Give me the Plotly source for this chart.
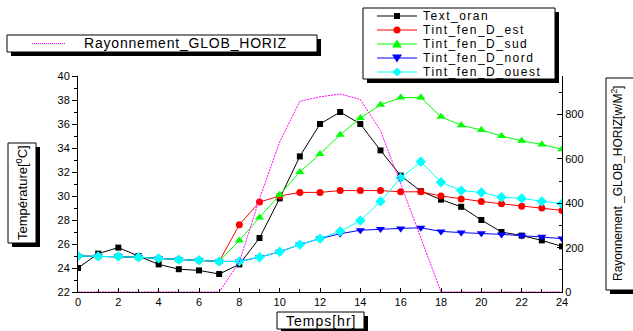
import plotly.graph_objects as go

# ---------------- data ----------------
hours = list(range(25))
text_oran = [24.0, 25.2, 25.7, 25.0, 24.3, 23.9, 23.8, 23.5, 24.3, 26.5, 29.8, 33.3, 36.0,
             37.0, 36.0, 33.8, 31.7, 30.4, 29.7, 29.1, 28.0, 27.0, 26.7, 26.3, 25.8]
tint_est = [25.0, 24.97, 24.97, 24.9, 24.8, 24.7, 24.65, 24.55, 27.6, 29.5, 30.0, 30.3, 30.3,
            30.45, 30.45, 30.45, 30.35, 30.35, 30.0, 29.75, 29.55, 29.35, 29.15, 29.0, 28.8]
tint_sud = [25.0, 24.97, 24.97, 24.9, 24.8, 24.7, 24.65, 24.55, 26.3, 28.2, 30.1, 32.0, 33.5,
            35.1, 36.5, 37.6, 38.2, 38.2, 36.6, 35.9, 35.5, 35.0, 34.6, 34.3, 33.9]
tint_nord = [25.0, 24.97, 24.97, 24.9, 24.8, 24.7, 24.65, 24.55, 24.55, 24.9, 25.35, 25.95, 26.45,
             26.85, 27.15, 27.25, 27.3, 27.35, 27.05, 26.95, 26.9, 26.8, 26.7, 26.6, 26.45]
tint_ouest = [25.0, 24.97, 24.97, 24.9, 24.8, 24.7, 24.65, 24.55, 24.55, 24.9, 25.35, 25.95, 26.45,
              27.05, 27.95, 29.55, 31.5, 32.85, 31.15, 30.45, 30.3, 29.9, 29.8, 29.55, 29.35]
rayonnement = [0, 0, 0, 0, 0, 0, 0, 0, 135, 420, 676, 860, 880,
               893, 868, 728, 488, 248, 0, 0, 0, 0, 0, 0, 0]

series_names = ["Text_oran", "Tint_fen_D_est", "Tint_fen_D_sud", "Tint_fen_D_nord", "Tint_fen_D_ouest"]
series_values = [text_oran, tint_est, tint_sud, tint_nord, tint_ouest]
series_colors = ["#000000", "#ff0000", "#00ff00", "#0000ff", "#00ffff"]
series_symbols = ["square", "circle", "triangle-up", "triangle-down", "diamond"]
series_sizes = [6, 7, 8, 8, 8]
ray_name = "Rayonnement_GLOB_HORIZ"
ray_color = "#ff00ff"

# ---------------- layout geometry (pixels) ----------------
W, H = 633, 331
L, R, T, B = 78, 562, 76, 292
FONT = "Liberation Sans, Arial, sans-serif"


def fx(x):
    return (x - L) / (R - L)


def fy(y):
    return (B - y) / (B - T)


fig = go.Figure()
fig.add_trace(go.Scatter(x=hours, y=rayonnement, yaxis="y2", mode="lines", name=ray_name,
                         line=dict(color=ray_color, width=1, dash="2px,1px"), showlegend=False))
for n, v, c, s, sz in zip(series_names, series_values, series_colors, series_symbols, series_sizes):
    fig.add_trace(go.Scatter(x=hours, y=v, mode="lines+markers", name=n,
                             line=dict(color=c, width=1),
                             marker=dict(symbol=s, size=sz, color=c, line=dict(width=0)),
                             showlegend=False))

shapes = []
annotations = []


def rect(x0, y0, x1, y1, fill, line_w=1, line_c="black"):
    shapes.append(dict(type="rect", xref="paper", yref="paper", layer="above",
                       x0=fx(x0), x1=fx(x1), y0=fy(y1), y1=fy(y0),
                       fillcolor=fill, line=dict(width=line_w, color=line_c)))


def shadow_box(x0, y0, x1, y1, off=4):
    rect(x0 + off, y0 + off, x1 + off, y1 + off, "black", 0, "black")
    rect(x0, y0, x1, y1, "white", 1, "black")


def path_shape(pts, color):
    d = "M " + " L ".join(f"{fx(px):.5f},{fy(py):.5f}" for px, py in pts) + " Z"
    shapes.append(dict(type="path", xref="paper", yref="paper", layer="above", path=d,
                       fillcolor=color, line=dict(width=0, color=color)))


def marker_shape(sym, cx, cy, color):
    if sym == "square":
        r = 3
        path_shape([(cx - r, cy - r), (cx + r, cy - r), (cx + r, cy + r), (cx - r, cy + r)], color)
    elif sym == "circle":
        r = 3.5
        shapes.append(dict(type="circle", xref="paper", yref="paper", layer="above",
                           x0=fx(cx - r), x1=fx(cx + r), y0=fy(cy + r), y1=fy(cy - r),
                           fillcolor=color, line=dict(width=0, color=color)))
    elif sym == "triangle-up":
        path_shape([(cx, cy - 4.5), (cx + 5, cy + 3.5), (cx - 5, cy + 3.5)], color)
    elif sym == "triangle-down":
        path_shape([(cx, cy + 4.5), (cx + 5, cy - 3.5), (cx - 5, cy - 3.5)], color)
    elif sym == "diamond":
        path_shape([(cx, cy - 4.5), (cx + 4.5, cy), (cx, cy + 4.5), (cx - 4.5, cy)], color)


def text(x, y, s, size=13, xanchor="left", angle=0):
    annotations.append(dict(xref="paper", yref="paper", x=fx(x), y=fy(y), text=s,
                            showarrow=False, xanchor=xanchor, yanchor="middle",
                            textangle=angle, borderpad=0,
                            font=dict(family=FONT, size=size, color="black")))


# main legend
shadow_box(363, 8, 555, 79)
row_y = [16, 30, 44, 58, 72]
for n, c, s, yy in zip(series_names, series_colors, series_symbols, row_y):
    shapes.append(dict(type="line", xref="paper", yref="paper", layer="above",
                       x0=fx(377), x1=fx(417), y0=fy(yy), y1=fy(yy), line=dict(color=c, width=1)))
    marker_shape(s, 397, yy, c)
    text(422, yy, '<span style="letter-spacing:1.5px">' + n + "</span>", 12)

# radiation legend
shadow_box(7, 35, 317, 52)
shapes.append(dict(type="line", xref="paper", yref="paper", layer="above",
                   x0=fx(32), x1=fx(66), y0=fy(43.5), y1=fy(43.5),
                   line=dict(color=ray_color, width=1, dash="1px,1px")))
text(83, 43.5, '<span style="letter-spacing:0.8px">' + ray_name + "</span>", 14)

# axis titles in shadowed boxes
shadow_box(8, 143, 36, 243)
text(22, 193, "Température[<sup>0</sup>C]", 13, "center", -90)

shadow_box(606, 78, 645, 290)
text(617, 184, "Rayonnement _GLOB_HORIZ[w/M<sup>2</sup>]", 12, "center", -90)

shadow_box(277, 312, 364, 329)
text(320.5, 320.5, '<span style="letter-spacing:1px">Temps[hr]</span>', 14, "center")

tickfont = dict(family=FONT, size=11, color="black")
fig.update_layout(
    width=W, height=H,
    margin=dict(l=L, r=W - R, t=T, b=H - B, pad=0),
    paper_bgcolor="white", plot_bgcolor="white",
    showlegend=False,
    font=dict(family=FONT, color="black"),
    xaxis=dict(range=[0, 24], tick0=0, dtick=2, ticks="inside", ticklen=4, tickcolor="black",
               showline=True, linecolor="black", linewidth=1, showgrid=False, zeroline=False,
               tickfont=tickfont, minor=dict(dtick=1, ticks="inside", ticklen=3, tickcolor="black")),
    yaxis=dict(range=[22, 40], tick0=22, dtick=2, ticks="outside", ticklen=5, tickcolor="black",
               showline=True, linecolor="black", linewidth=1, showgrid=False, zeroline=False,
               tickfont=tickfont, minor=dict(dtick=1, ticks="outside", ticklen=3, tickcolor="black")),
    yaxis2=dict(range=[0, 974], tick0=0, dtick=200, ticks="inside", ticklen=5, tickcolor="black",
                overlaying="y", side="right", showline=True, linecolor="black", linewidth=1,
                showgrid=False, zeroline=False, tickfont=tickfont,
                minor=dict(dtick=100, ticks="inside", ticklen=3, tickcolor="black")),
    shapes=shapes,
    annotations=annotations,
)

fig.write_html("out.html")
